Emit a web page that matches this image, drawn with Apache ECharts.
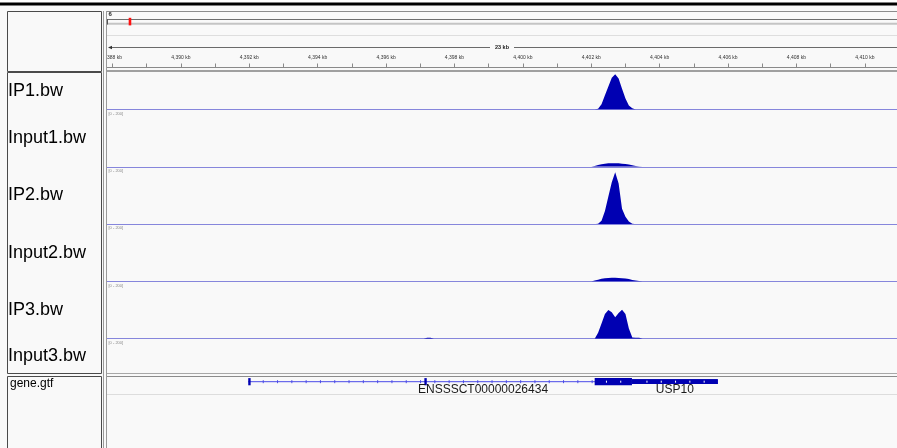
<!DOCTYPE html>
<html>
<head>
<meta charset="utf-8">
<script src="https://cdn.jsdelivr.net/npm/echarts@6/dist/echarts.min.js"></script>
<style>
  html, body { margin: 0; padding: 0; background: #ffffff; }
  #c { width: 897px; height: 448px; }
</style>
</head>
<body>
<div id="c"></div>
<script>
// ---- Locus (chr6, Sscrofa10.2), all genomic positions in kb ----
const chromName = '6';
const chromLengthKb = 157765.6;
const viewStartKb = 4387.84;
const viewEndKb = 4410.94;

// Ruler ticks and labels
const rulerLabelKb = [4388, 4390, 4392, 4394, 4396, 4398, 4400, 4402, 4404, 4406, 4408, 4410];
const rulerTickKb = [4388, 4389, 4390, 4391, 4392, 4393, 4394, 4395, 4396, 4397, 4398, 4399,
                     4400, 4401, 4402, 4403, 4404, 4405, 4406, 4407, 4408, 4409, 4410];

// Coverage tracks (bigWig), data range [0 - 200]
const trackNames = ['IP1.bw', 'Input1.bw', 'IP2.bw', 'Input2.bw', 'IP3.bw', 'Input3.bw'];
const dataRange = [0, 200];
const binKb = [4397.1, 4397.2, 4397.3, 4397.4, 4397.5,
               4402.0, 4402.1, 4402.2, 4402.3, 4402.4, 4402.5, 4402.6, 4402.7, 4402.8,
               4402.9, 4403.0, 4403.1, 4403.2, 4403.3, 4403.4, 4403.5];
const ip1    = [0, 0, 0, 0, 0, 0, 0, 3, 18, 50, 80, 111, 123, 108, 72, 38, 14, 4, 0, 0, 0];
const input1 = [0, 0, 0, 0, 0, 0, 3, 6, 9, 11, 12, 12, 12, 12, 11, 10, 8, 5, 3, 1, 0];
const ip2    = [0, 0, 0, 0, 0, 0, 0, 1, 12, 46, 96, 146, 181, 142, 54, 26, 9, 1, 0, 0, 0];
const input2 = [0, 0, 0, 0, 0, 0, 3, 6, 9, 11, 12, 13, 13, 12, 11, 10, 8, 5, 3, 1, 0];
const ip3    = [0, 3, 3, 0, 0, 0, 0, 21, 53, 86, 100, 92, 75, 90, 101, 86, 36, 4, 3, 3, 0];
const input3 = [0, 0, 0, 0, 0, 0, 2, 5, 8, 10, 11, 12, 12, 11, 10, 9, 7, 5, 3, 1, 0];
const trackValues = [ip1, input1, ip2, input2, ip3, input3];

// Gene annotation (gene.gtf)
const featureNames = ['ENSSSCT00000026434', 'USP10'];
const featureStartKb = [4391.97, 4403.19];
const featureEndKb = [4405.70, 4405.70];
const featureBlocks = [
  [[4391.97, 4392.04, 'cds'], [4397.12, 4397.19, 'cds'], [4402.10, 4403.19, 'cds'], [4403.19, 4405.70, 'utr']],
  [[4403.19, 4405.70, 'utr']]
];

// ---- Page layout ----
const W = 897, H = 448;
const dataLeft = 107, dataWidth = W - dataLeft;
const nameLeft = 7, nameRight = 101;
const rulerTop = 11, rulerBottom = 71;
const tracksTop = 72, tracksBottom = 373;
const geneTop = 376;
const trackH = 57.3, firstTrackTop = 52.2;
const featureColor = '#0000b2';

const grids = [], xAxes = [], yAxes = [], series = [];

// Coverage tracks: one grid per track
trackNames.forEach((name, i) => {
  const top = firstTrackTop + i * trackH;
  grids.push({ left: dataLeft, top: top, width: dataWidth, height: trackH });
  xAxes.push({
    gridIndex: i, type: 'value', min: viewStartKb, max: viewEndKb,
    axisLine: { show: true, onZero: false, lineStyle: { color: '#8686dc', width: 1 } },
    axisTick: { show: false }, axisLabel: { show: false }, splitLine: { show: false }
  });
  yAxes.push({ gridIndex: i, type: 'value', min: dataRange[0], max: dataRange[1], show: false, splitLine: { show: false } });
  series.push({
    type: 'line', xAxisIndex: i, yAxisIndex: i,
    data: binKb.map((p, k) => [p, trackValues[i][k]]),
    showSymbol: false, symbol: 'none', silent: true, animation: false,
    lineStyle: { width: 0, color: featureColor },
    areaStyle: { color: featureColor, opacity: 1 }
  });
});

// Ruler axis
const rulerIdx = grids.length;
grids.push({ left: dataLeft, top: 66.5, width: dataWidth, height: 1 });
xAxes.push({
  gridIndex: rulerIdx, type: 'value', min: viewStartKb, max: viewEndKb, position: 'top', z: 60,
  axisLine: { show: true, lineStyle: { color: '#8a8a8a', width: 1 } },
  axisTick: { show: true, customValues: rulerTickKb, length: 4, lineStyle: { color: '#8a8a8a', width: 1 } },
  axisLabel: {
    show: true, customValues: rulerLabelKb, margin: 6, hideOverlap: false,
    formatter: v => v.toLocaleString('en-US') + ' kb',
    fontFamily: 'Liberation Sans, Arial, sans-serif', fontSize: 5, color: '#333'
  },
  splitLine: { show: false }
});
yAxes.push({ gridIndex: rulerIdx, type: 'value', min: 0, max: 1, show: false });

// Chromosome ideogram with the current region box
const ideoIdx = grids.length;
grids.push({ left: 108, top: 19, width: 788, height: 5 });
xAxes.push({ gridIndex: ideoIdx, type: 'value', min: 0, max: chromLengthKb, show: false });
yAxes.push({ gridIndex: ideoIdx, type: 'value', min: 0, max: 1, show: false });
series.push({
  type: 'custom', xAxisIndex: ideoIdx, yAxisIndex: ideoIdx, z: 90, silent: true, animation: false, clip: false,
  data: [[viewStartKb, viewEndKb]],
  renderItem: (params, api) => {
    const a = api.coord([api.value(0), 0]);
    const b = api.coord([api.value(1), 0]);
    const w = Math.max(2.6, b[0] - a[0]);
    const cx = (a[0] + b[0]) / 2;
    return { type: 'rect', shape: { x: cx - w / 2, y: 17.8, width: w, height: 7.6 }, style: { fill: '#ff1010' } };
  }
});

// Gene track
const geneIdx = grids.length;
grids.push({ left: dataLeft, top: 375.7, width: dataWidth, height: 12 });
xAxes.push({ gridIndex: geneIdx, type: 'value', min: viewStartKb, max: viewEndKb, show: false });
yAxes.push({ gridIndex: geneIdx, type: 'value', min: 0, max: 1, show: false });
series.push({
  type: 'custom', xAxisIndex: geneIdx, yAxisIndex: geneIdx, z: 60, silent: true, animation: false, clip: false,
  data: featureNames.map((n, i) => [featureStartKb[i], featureEndKb[i], i]),
  renderItem: (params, api) => {
    const fi = api.value(2);
    const s = api.coord([api.value(0), 0.5]);
    const e = api.coord([api.value(1), 0.5]);
    const cy = s[1];
    const kids = [];
    // intron line
    kids.push({ type: 'line', shape: { x1: s[0], y1: cy, x2: e[0], y2: cy }, style: { stroke: '#4b4be8', lineWidth: 1 } });
    // strand ticks on the line
    for (let x = s[0] + 15; x < e[0] - 3; x += 14.3) {
      kids.push({ type: 'line', shape: { x1: x, y1: cy - 1.5, x2: x, y2: cy + 1.5 }, style: { stroke: '#4b4be8', lineWidth: 1 } });
    }
    // exon blocks
    featureBlocks[fi].forEach(bk => {
      const a = api.coord([bk[0], 0.5]);
      const b = api.coord([bk[1], 0.5]);
      const hh = bk[2] === 'cds' ? 3.6 : 2.4;
      kids.push({ type: 'rect', shape: { x: a[0], y: cy - hh, width: Math.max(2.2, b[0] - a[0]), height: hh * 2 }, style: { fill: featureColor } });
      for (let x = s[0] + 15; x < e[0] - 3; x += 14.3) {
        if (x > a[0] + 2 && x < b[0] - 2 && b[0] - a[0] > 6) {
          kids.push({ type: 'line', shape: { x1: x, y1: cy - 1, x2: x, y2: cy + 1 }, style: { stroke: '#ffffff', lineWidth: 1 } });
        }
      }
    });
    // feature name under the glyph
    kids.push({
      type: 'text', x: (s[0] + e[0]) / 2, y: cy + 7.6,
      style: { text: featureNames[fi], align: 'center', verticalAlign: 'middle',
               font: '12px "Liberation Sans", Arial, sans-serif', fill: '#1a1a1a' }
    });
    return { type: 'group', children: kids };
  }
});

// ---- Panel chrome: backgrounds, borders, names ----
const g = [];
const bg = '#f9f9f9';
const line = (x1, y1, x2, y2, color, w, z) => ({
  type: 'line', z: z || 70, silent: true,
  shape: { x1, y1, x2, y2 }, style: { stroke: color, lineWidth: w || 1 }
});
const text = (x, y, str, font, fill, align, z) => ({
  type: 'text', z: z || 70, silent: true, x, y,
  style: { text: str, font, fill, align: align || 'left', verticalAlign: 'middle' }
});

// white strip and black header bar
g.push({ type: 'rect', z: 50, silent: true, shape: { x: 0, y: 0, width: W, height: 3 }, style: { fill: '#ffffff' } });
g.push({ type: 'rect', z: 70, silent: true, shape: { x: 0, y: 2.5, width: W, height: 3 }, style: { fill: '#000000' } });
// ruler panel background (above coverage tracks)
g.push({ type: 'rect', z: 50, silent: true, shape: { x: 0, y: 5.5, width: W, height: tracksTop - 5.5 }, style: { fill: bg } });
// gene panel background (covers lower tracks)
g.push({ type: 'rect', z: 50, silent: true, shape: { x: 0, y: tracksBottom, width: W, height: H - tracksBottom }, style: { fill: bg } });

// name panel boxes
[[rulerTop, rulerBottom], [tracksTop, tracksBottom], [geneTop, H + 2]].forEach(([t, b]) => {
  g.push({ type: 'rect', z: 71, silent: true, shape: { x: nameLeft + 0.5, y: t + 0.5, width: nameRight - nameLeft, height: b - t },
           style: { fill: 'none', stroke: '#4a4a4a', lineWidth: 1 } });
});
// divider between name and data panels
g.push({ type: 'rect', z: 69, silent: true, shape: { x: 101, y: rulerTop, width: 6, height: H }, style: { fill: bg } });
g.push(line(103.5, rulerTop, 103.5, H, '#9a9a9a'));
g.push(line(106.5, rulerTop, 106.5, H, '#9a9a9a'));

// ruler chrome
g.push(line(dataLeft, 11.5, W, 11.5, '#8c8c8c'));
g.push(line(dataLeft, 19.5, W, 19.5, '#6e6e6e'));
g.push(line(dataLeft, 23.7, W, 23.7, '#c4c4c4', 2));
g.push(line(107.5, 19, 107.5, 24.5, '#555'));
g.push(line(dataLeft, 35.5, W, 35.5, '#dedede'));
g.push(text(108.5, 14.8, chromName, 'bold 6px "Liberation Sans", Arial, sans-serif', '#222', 'left', 72));
const spanMid = dataLeft + dataWidth / 2;
g.push(line(109, 47.5, spanMid - 12, 47.5, '#6a6a6a'));
g.push(line(spanMid + 12, 47.5, W, 47.5, '#6a6a6a'));
g.push({ type: 'polygon', z: 70, silent: true, shape: { points: [[108, 47.5], [112, 45.7], [112, 49.3]] }, style: { fill: '#333' } });
g.push(text(spanMid, 47.5, Math.round(viewEndKb - viewStartKb) + ' kb', 'bold 5.5px "Liberation Sans", Arial, sans-serif', '#222', 'center'));
g.push(line(dataLeft, 71, W, 71, '#a0a0a0', 2));

// panel separators
g.push(line(dataLeft, tracksBottom + 0.5, W, tracksBottom + 0.5, '#a8a8a8'));
g.push(line(dataLeft, geneTop + 0.5, W, geneTop + 0.5, '#8c8c8c'));
g.push(line(dataLeft, 394.5, W, 394.5, '#dddddd'));

// track names and data-range captions
trackNames.forEach((name, i) => {
  const top = firstTrackTop + i * trackH;
  const bottom = top + trackH;
  const cy = (Math.max(top, tracksTop) + Math.min(bottom, tracksBottom)) / 2;
  g.push(text(8, cy, name, '18px "Liberation Sans", Arial, sans-serif', '#000'));
  if (top > tracksTop - 2) {
    g.push(text(108.5, top + 4, '[' + dataRange[0] + ' - ' + dataRange[1] + ']', '4px "Liberation Sans", Arial, sans-serif', '#8a8a8a', 'left', 40));
  }
});
g.push(text(10, 384, 'gene.gtf', '12px "Liberation Sans", Arial, sans-serif', '#000'));

const chart = echarts.init(document.getElementById('c'), null, { renderer: 'canvas', width: W, height: H });
chart.setOption({
  backgroundColor: bg,
  animation: false,
  grid: grids,
  xAxis: xAxes,
  yAxis: yAxes,
  series: series,
  graphic: { elements: g }
});
</script>
</body>
</html>
